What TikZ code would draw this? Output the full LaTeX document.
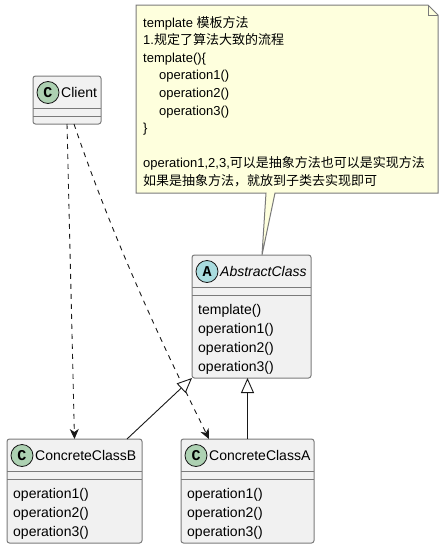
\documentclass[tikz,border=0pt]{standalone}
\usepackage{fontspec}
\setmainfont{Liberation Sans}
\newfontfamily\cjk{Noto Sans CJK SC}
\newfontfamily\iconfont{Liberation Mono}
\usetikzlibrary{arrows.meta, calc}
\definecolor{umlfill}{HTML}{F1F1F1}
\definecolor{umlline}{HTML}{181818}
\definecolor{umlborder}{HTML}{7A7A7A}
\definecolor{notefill}{HTML}{FEFFDD}
\definecolor{classicon}{HTML}{ADD1B2}
\definecolor{abstracticon}{HTML}{A9DCDF}

\begin{document}
\begin{tikzpicture}[x=1pt, y=-1pt,
    classbox/.style={draw=umlborder, fill=umlfill, line width=1pt, rounded corners=2.5pt, inner sep=0pt, outer sep=0pt},
    sepline/.style={draw=umlborder, line width=1pt},
    icon/.style={circle, draw=umlline, line width=0.8pt, minimum size=22pt, inner sep=0pt, font=\iconfont\bfseries\fontsize{15}{15}\selectfont},
    classname/.style={anchor=base west, inner sep=0pt, font=\fontsize{14}{14}\selectfont},
    member/.style={anchor=base west, inner sep=0pt, font=\fontsize{14}{14}\selectfont},
    notebody/.style={draw=umlborder, fill=notefill, line width=1pt},
    notetext/.style={anchor=base west, inner sep=0pt, font=\fontsize{13}{13}\selectfont},
    depend/.style={draw=umlline, line width=0.9pt, dash pattern=on 5pt off 5pt, -{Stealth[length=10pt, width=9pt, inset=3pt]}},
    extends/.style={draw=umlline, line width=0.9pt, -{Triangle[length=15pt, width=13pt, fill=white]}}]
    % Page
    \useasboundingbox (0,0) rectangle (444,549);

    % Classes
    \node[classbox, minimum width=68pt, minimum height=48pt] (client) at (67,100) {};
    \node[classbox, minimum width=119pt, minimum height=123pt] (abstract) at (251.5,316.5) {};
    \node[classbox, minimum width=135pt, minimum height=104pt] (concreteB) at (74.5,491) {};
    \node[classbox, minimum width=133pt, minimum height=104pt] (concreteA) at (247.5,491) {};

    % Compartments
    \foreach \c in {client,abstract,concreteB,concreteA} {
        \draw[sepline] ($(\c.north west)+(0,32)$) -- ($(\c.north east)+(0,32)$);
        \draw[sepline] ($(\c.north west)+(0,40)$) -- ($(\c.north east)+(0,40)$);
    }

    % Headers
    \node[icon, fill=classicon] (clientIcon) at ($(client.north west)+(15,16.5)$) {C};
    \node[classname] (clientName) at ($(client.north west)+(28,21.5)$) {Client};
    \node[icon, fill=abstracticon] (abstractIcon) at ($(abstract.north west)+(15,16.5)$) {A};
    \node[classname] (abstractName) at ($(abstract.north west)+(28,21.5)$) {\itshape AbstractClass};
    \node[icon, fill=classicon] (concreteBIcon) at ($(concreteB.north west)+(15,16.5)$) {C};
    \node[classname] (concreteBName) at ($(concreteB.north west)+(28,21.5)$) {ConcreteClassB};
    \node[icon, fill=classicon] (concreteAIcon) at ($(concreteA.north west)+(15,16.5)$) {C};
    \node[classname] (concreteAName) at ($(concreteA.north west)+(28,21.5)$) {ConcreteClassA};

    % Methods
    \foreach \m [count=\i] in {template(),operation1(),operation2(),operation3()}
        \node[member] (abstractM\i) at ($(abstract.north west)+(6,40+19*\i)$) {\m};
    \foreach \m [count=\i] in {operation1(),operation2(),operation3()} {
        \node[member] (concreteBM\i) at ($(concreteB.north west)+(6,40+19*\i)$) {\m};
        \node[member] (concreteAM\i) at ($(concreteA.north west)+(6,40+19*\i)$) {\m};
    }

    % Note
    \draw[notebody] (136,5) -- (428,5) -- (438,15) -- (438,193) -- (275,193)
        -- ([xshift=10.5pt]abstract.north) -- (266,193) -- (136,193) -- cycle;
    \draw[notebody, fill=none] (428,5) -- (428,15) -- (438,15);
    \foreach \y/\t [count=\i] in {27/{template {\cjk 模板方法}},
            44.6/{1.{\cjk 规定了算法大致的流程}},
            62.2/{template()\{},
            79.8/{\hspace*{16pt}operation1()},
            97.4/{\hspace*{16pt}operation2()},
            115/{\hspace*{16pt}operation3()},
            132.6/{\}},
            167.8/{operation1,2,3,{\cjk 可以是抽象方法也可以是实现方法}},
            185.4/{{\cjk 如果是抽象方法，就放到子类去实现即可}}}
        \node[notetext] (noteL\i) at (143,\y) {\t};

    % Relations
    \draw[depend] (client.south) -- (concreteB.north);
    \draw[depend] ([xshift=7pt]client.south) .. controls (120,260) and (180,380) .. ([xshift=-38.5pt]concreteA.north);
    \draw[extends] ([xshift=-15pt]concreteB.north east) -- (abstract.south west);
    \draw[extends] (concreteA.north) -- (concreteA.north |- abstract.south);

\end{tikzpicture}
\end{document}
